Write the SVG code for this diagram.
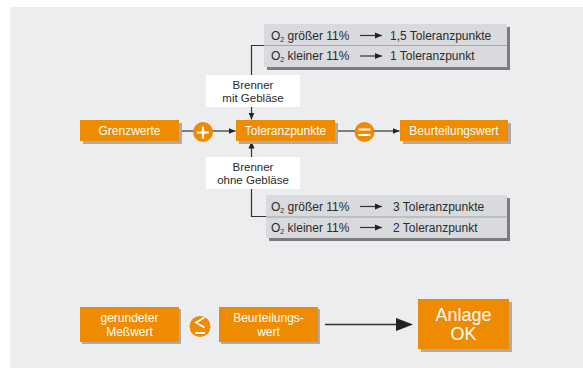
<svg xmlns="http://www.w3.org/2000/svg" width="583" height="369" viewBox="0 0 583 369">
<style>
.or{fill:#EF8B00}
.sh{fill:#ABACAE}
.gsh{fill:#7B7C80}
.gb{fill:#D8DADD}
.wb{fill:#FFFFFF}
.wt{font-family:"Liberation Sans",Arial,sans-serif;font-size:12px;fill:#FFFFFF;text-anchor:middle}
.dt{font-family:"Liberation Sans",Arial,sans-serif;font-size:12px;fill:#2A2A2A}
.dtc{font-family:"Liberation Sans",Arial,sans-serif;font-size:11.5px;fill:#2A2A2A;text-anchor:middle}
.ln{fill:none;stroke:#333;stroke-width:1.2}
.sym{fill:none;stroke:#FFFFFF;stroke-width:2.2;stroke-linecap:butt}
.div{stroke:#A3A5A9;stroke-width:1}
</style>
<defs>
<marker id="ah" markerWidth="8" markerHeight="7" refX="7" refY="3.5" orient="auto" markerUnits="userSpaceOnUse">
<path d="M0,0.5 L7,3.5 L0,6.5 z" fill="#222"/>
</marker>
</defs>
<rect x="10" y="7" width="573" height="361" fill="#ECEDEF"/>

<g id="connectors">
<path class="ln" d="M264,45.5 H251.5 V75"/>
<path class="ln" d="M251.5,107 V119.5" marker-end="url(#ah)"/>
<path class="ln" d="M251.5,157 V141.5" marker-end="url(#ah)"/>
<path class="ln" d="M251.5,189 V216.5 H266"/>
<path class="ln" d="M179,131 H194"/>
<path class="ln" d="M212,131 H235.5" marker-end="url(#ah)"/>
<path class="ln" d="M335,131 H355"/>
<path class="ln" d="M374,131 H399.5" marker-end="url(#ah)"/>
<path class="ln" d="M325,324.5 H400" style="stroke-width:1.6"/>
<polygon points="396,318 413,324.5 396,331" fill="#222"/>
</g>

<g id="o2-mit">
<rect class="gsh" x="267" y="27" width="243" height="43"/>
<rect class="gb" x="264" y="24" width="243" height="43"/>
<line class="div" x1="264" y1="45.5" x2="507" y2="45.5"/>
<text class="dt" x="271" y="39.5">O<tspan font-size="7" dy="2">2</tspan><tspan dy="-2"> größer 11%</tspan></text>
<line class="ln" x1="360" y1="35.5" x2="382" y2="35.5" marker-end="url(#ah)"/>
<text class="dt" x="390" y="39.5">1,5 Toleranzpunkte</text>
<text class="dt" x="271" y="60">O<tspan font-size="7" dy="2">2</tspan><tspan dy="-2"> kleiner 11%</tspan></text>
<line class="ln" x1="360" y1="56" x2="382" y2="56" marker-end="url(#ah)"/>
<text class="dt" x="390" y="60">1 Toleranzpunkt</text>
</g>

<g id="brenner-mit">
<rect class="wb" x="206" y="75" width="94" height="32"/>
<text class="dtc" x="253" y="88.5">Brenner</text>
<text class="dtc" x="253" y="101.5">mit Gebläse</text>
</g>

<g id="grenzwerte">
<rect class="sh" x="83" y="123" width="99" height="21"/>
<rect class="or" x="80" y="120" width="99" height="21"/>
<text class="wt" x="129.5" y="135">Grenzwerte</text>
</g>

<g id="plus">
<circle class="or" cx="203" cy="132" r="10"/>
<path class="sym" d="M197,132.5 H209 M203,126.5 V138.5"/>
</g>

<g id="toleranzpunkte">
<rect class="sh" x="239" y="123" width="99" height="21"/>
<rect class="or" x="236" y="120" width="99" height="21"/>
<text class="wt" x="285.5" y="135">Toleranzpunkte</text>
</g>

<g id="equals">
<circle class="or" cx="364.5" cy="132" r="10"/>
<path class="sym" d="M358.5,129.5 H370.5 M358.5,135 H370.5" style="stroke-width:2"/>
</g>

<g id="beurteilungswert">
<rect class="sh" x="403" y="123" width="108" height="21"/>
<rect class="or" x="400" y="120" width="108" height="21"/>
<text class="wt" x="454" y="135">Beurteilungswert</text>
</g>

<g id="brenner-ohne">
<rect class="wb" x="206" y="157" width="94" height="32"/>
<text class="dtc" x="253" y="170.5">Brenner</text>
<text class="dtc" x="253" y="184">ohne Gebläse</text>
</g>

<g id="o2-ohne">
<rect class="gsh" x="269" y="198" width="241" height="43"/>
<rect class="gb" x="266" y="195" width="241" height="43"/>
<line class="div" x1="266" y1="217" x2="507" y2="217"/>
<text class="dt" x="271" y="210.5">O<tspan font-size="7" dy="2">2</tspan><tspan dy="-2"> größer 11%</tspan></text>
<line class="ln" x1="360" y1="206.5" x2="382" y2="206.5" marker-end="url(#ah)"/>
<text class="dt" x="393" y="210.5">3 Toleranzpunkte</text>
<text class="dt" x="271" y="231.5">O<tspan font-size="7" dy="2">2</tspan><tspan dy="-2"> kleiner 11%</tspan></text>
<line class="ln" x1="360" y1="227.5" x2="382" y2="227.5" marker-end="url(#ah)"/>
<text class="dt" x="393" y="231.5">2 Toleranzpunkt</text>
</g>

<g id="messwert">
<rect class="sh" x="82" y="309" width="99" height="35"/>
<rect class="or" x="80" y="307" width="99" height="35"/>
<text class="wt" x="129.5" y="321.5">gerundeter</text>
<text class="wt" x="129.5" y="336">Meßwert</text>
</g>

<g id="leq">
<circle class="or" cx="200" cy="326.5" r="10.5"/>
<path class="sym" d="M204.5,317.5 L196,322.5 L204.5,327.5 M195.5,333 H205" style="stroke-width:1.8"/>
</g>

<g id="beurteilungswert2">
<rect class="sh" x="221" y="309" width="99" height="35"/>
<rect class="or" x="219" y="307" width="99" height="35"/>
<text class="wt" x="268.5" y="321.5">Beurteilungs-</text>
<text class="wt" x="268.5" y="336">wert</text>
</g>

<g id="anlage">
<rect class="sh" x="421" y="302" width="91" height="50"/>
<rect class="or" x="418" y="299" width="91" height="50"/>
<text class="wt" x="463.5" y="321" style="font-size:18px">Anlage</text>
<text class="wt" x="463.5" y="340" style="font-size:18px">OK</text>
</g>
</svg>
